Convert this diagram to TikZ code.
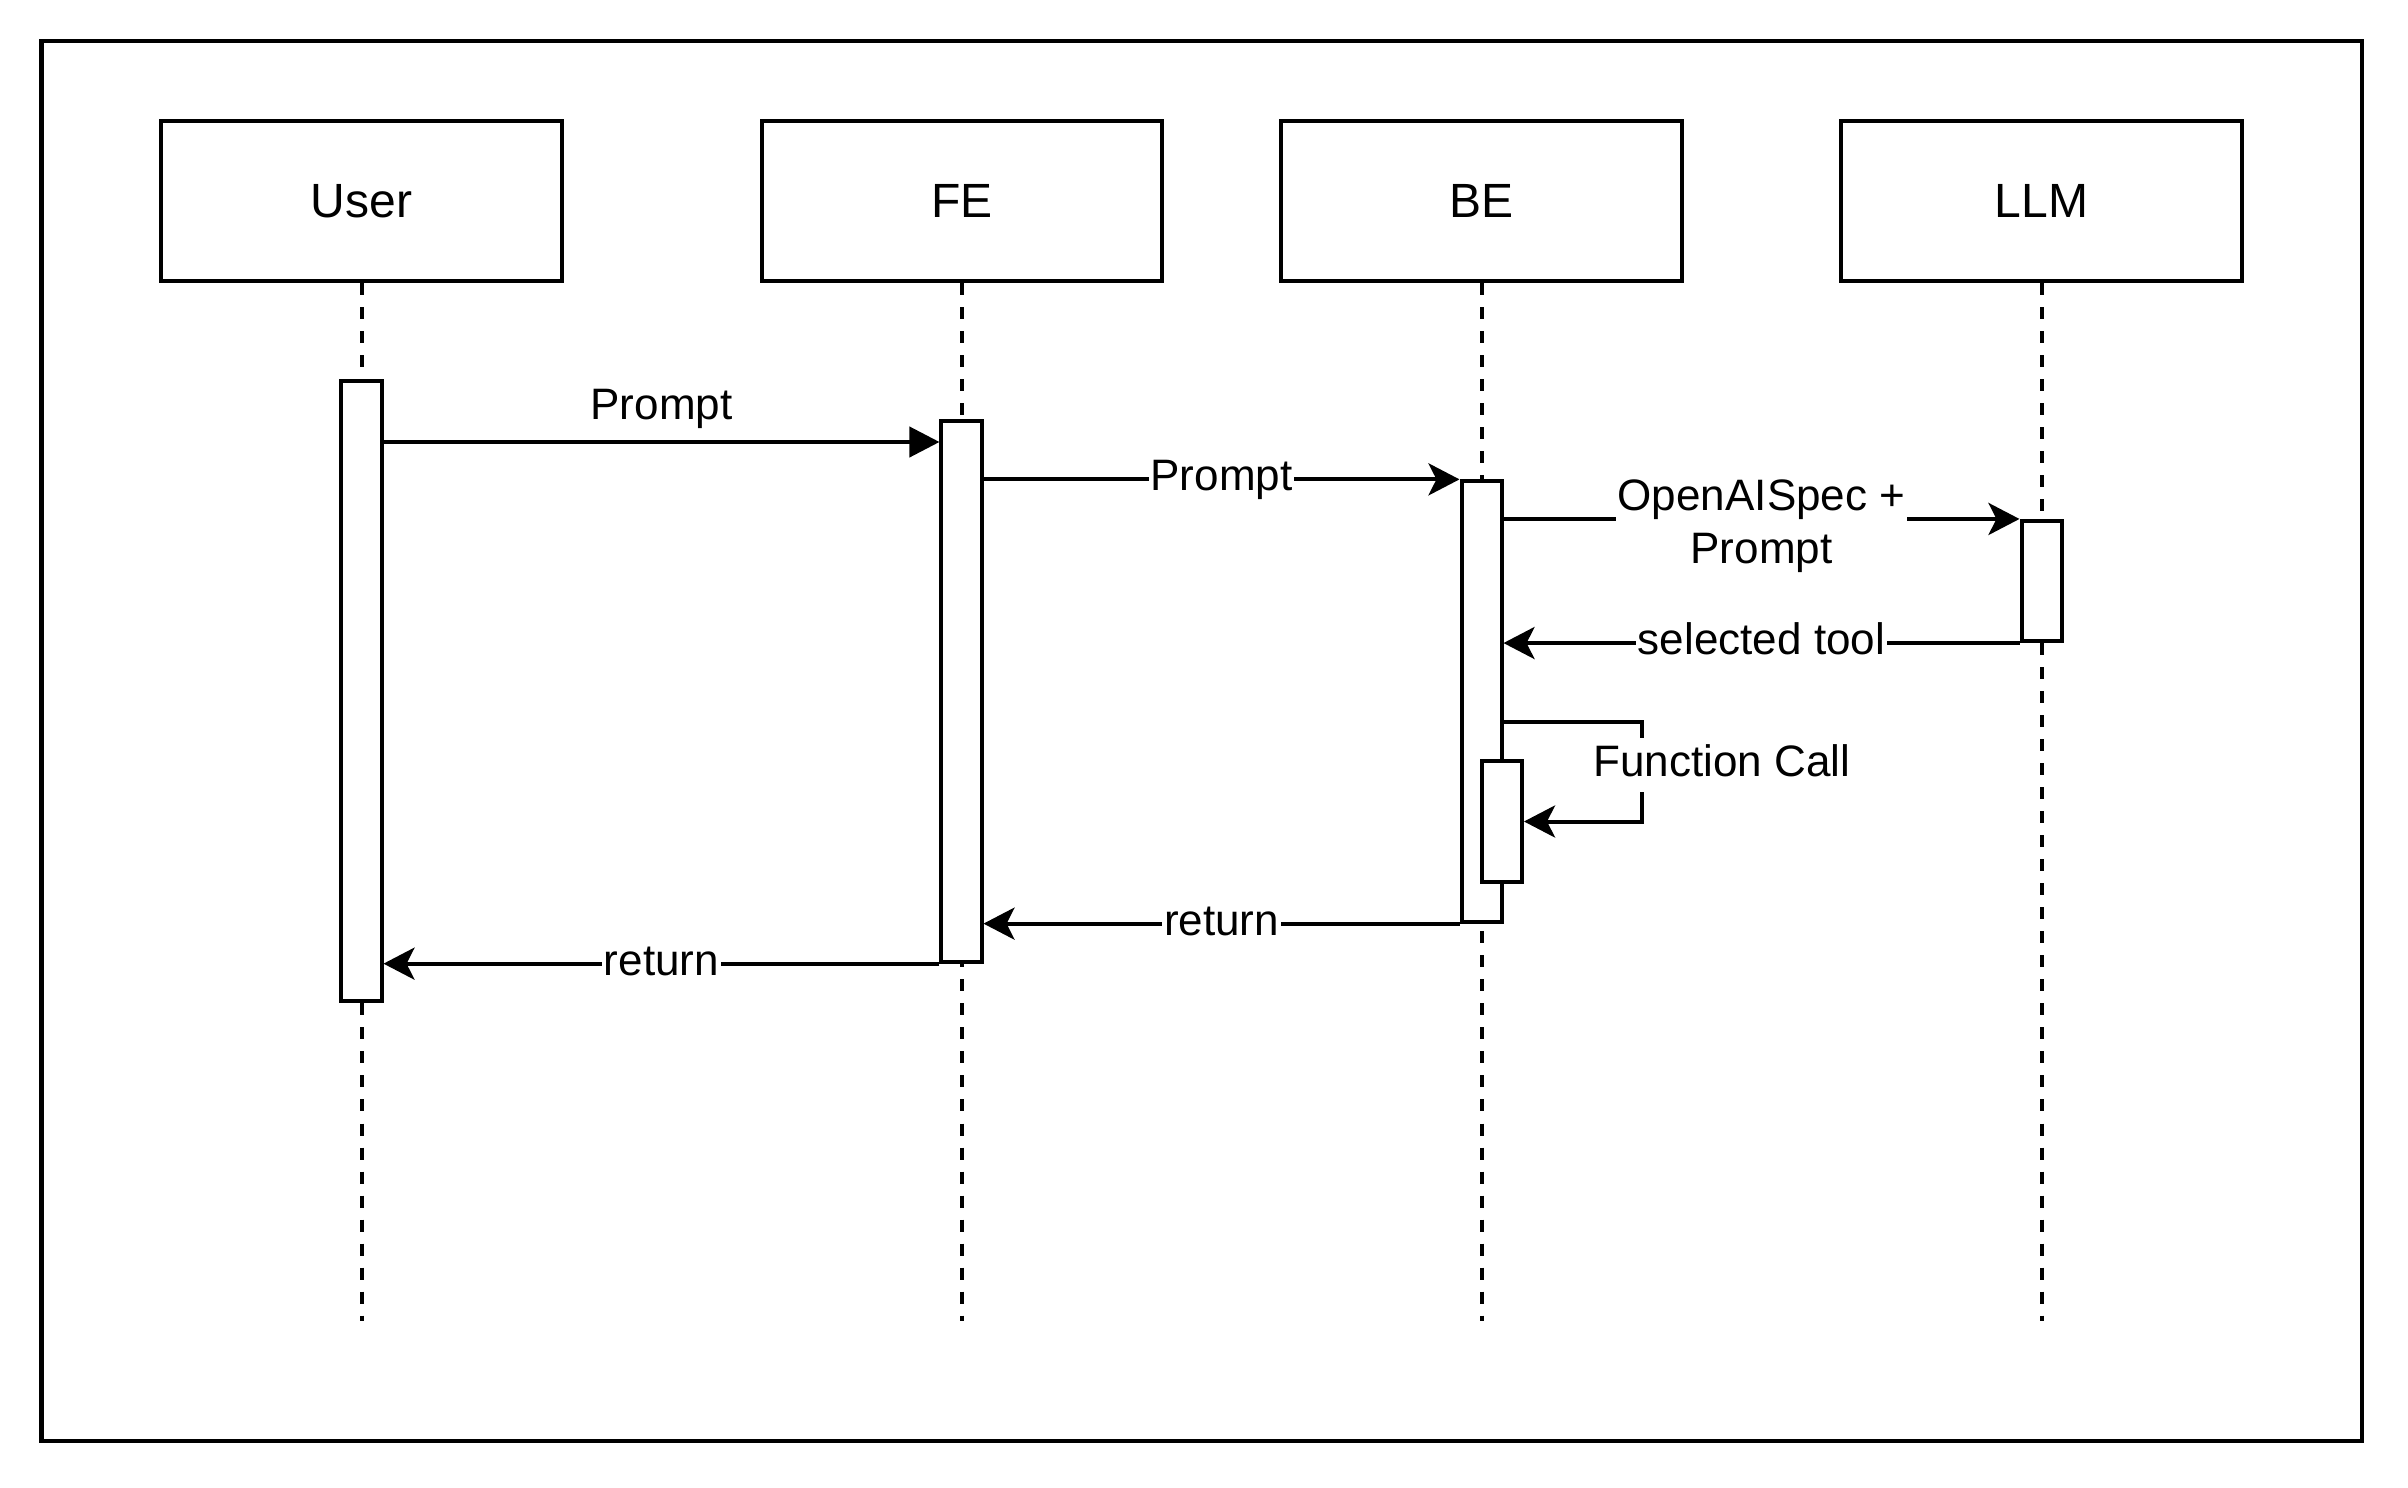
\documentclass[tikz,border=0pt]{standalone}
\usepackage{fontspec}
\setmainfont{Liberation Sans}
\usetikzlibrary{arrows.meta}
\begin{document}
\begin{tikzpicture}[x=0.01cm,y=-0.01cm,
  lw/.style={line width=0.04cm},
  actor/.style={draw,lw,rectangle,minimum width=4cm,minimum height=1.6cm,inner sep=0pt,
    font=\fontsize{13.66pt}{16.4pt}\selectfont},
  bar/.style={draw,lw,fill=white,rectangle,minimum width=0.4cm,inner sep=0pt},
  lifeline/.style={lw,dash pattern=on 0.12cm off 0.12cm},
  msg/.style={lw,-{Stealth[length=0.31cm,width=0.32cm,inset=0.08cm]}},
  msgblock/.style={lw,-{Triangle[length=0.3cm,width=0.3cm]}},
  lbl/.style={font=\fontsize{12.52pt}{15.02pt}\selectfont,inner xsep=0.02cm,inner ysep=0.06cm,
    text height=0.32cm,text depth=0.09cm},
  onlbl/.style={lbl,fill=white},
]
\useasboundingbox (0,0) rectangle (2408,1488);
\draw[lw] (41.5,41.5) rectangle (2362,1441);

% actors
\node[actor] (user) at (361.5,201) {User};
\node[actor] (fe)   at (962,201)   {FE};
\node[actor] (be)   at (1481.5,201) {BE};
\node[actor] (llm)  at (2041.5,201) {LLM};

% lifeline ends
\coordinate (userEnd) at (361.5,1321);
\coordinate (feEnd)   at (962,1321);
\coordinate (beEnd)   at (1481.5,1321);
\coordinate (llmEnd)  at (2041.5,1321);

\draw[lifeline] (user.south) -- (userEnd);
\draw[lifeline] (fe.south) -- (feEnd);
\draw[lifeline] (be.south) -- (beEnd);
\draw[lifeline] (llm.south) -- (llmEnd);

% activation bars
\node[bar,minimum height=6.2cm] (ubar)   at (361.5,691) {};
\node[bar,minimum height=5.4cm] (febar)  at (961.5,691.5) {};
\node[bar,minimum height=4.4cm] (bebar)  at (1481.5,701.5) {};
\node[bar,minimum height=1.2cm] (llmbar) at (2041.5,581) {};
\node[bar,minimum height=1.2cm] (nbar)   at (1502,821.5) {};

% messages
\draw[msgblock] (ubar.east |- 0,442) -- (febar.west |- 0,442)
  node[lbl,midway,yshift=0.34cm] (l1) {Prompt};
\draw[msg] (febar.east |- bebar.north) -- (bebar.north west)
  node[onlbl,midway] (l2) {Prompt};
\draw[msg] (bebar.east |- llmbar.north) -- (llmbar.north west);
\node[fill=white,align=center,inner xsep=0.02cm,inner ysep=0.02cm,
  font=\fontsize{12.52pt}{15.02pt}\selectfont] (l3) at (1761.5,526) {OpenAISpec +\\Prompt};
\draw[msg] (llmbar.south west) -- (bebar.east |- llmbar.south)
  node[onlbl,midway] (l4) {selected tool};

\coordinate (fcR) at (1642,722);
\draw[msg] (bebar.east |- fcR) -- (fcR) -- (fcR |- nbar.east) -- (nbar.east);
\node[onlbl] (l5) at (1722,765) {Function Call};

\draw[msg] (bebar.south west) -- (febar.east |- bebar.south)
  node[onlbl,midway] (l6) {return};
\draw[msg] (febar.south west) -- (ubar.east |- febar.south)
  node[onlbl,midway] (l7) {return};
\end{tikzpicture}
\end{document}
